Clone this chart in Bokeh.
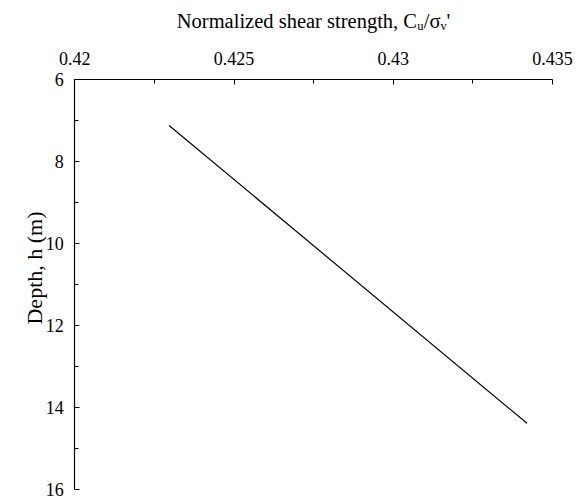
import math
from bokeh.plotting import figure
from bokeh.models import Range1d, FixedTicker, CustomJSTickFormatter, Label, LinearAxis
from bokeh.embed import file_html
from bokeh.resources import INLINE

# data
ratio = [0.42296, 0.43420]      # Cu/sigma_v'
depth = [7.12, 14.38]           # h (m)

x_ticks = [0.42, 0.425, 0.43, 0.435]
x_minor = [0.4225, 0.4275, 0.4325]
y_ticks = [6, 8, 10, 12, 14, 16]
y_minor = [7, 9, 11, 13, 15]

x_title = "Normalized shear strength, C\u1d64/\u03c3\u1d65'"
y_title = "Depth, h (m)"

FONT = "Liberation Serif"

# layout: canvas size and where the axes box sits on it (pixels)
W, H = 575, 496
BOX_L, BOX_R, BOX_T, BOX_B = 74.3, 552.0, 79.0, 489.3

x0, x1 = x_ticks[0], x_ticks[-1]
y0, y1 = y_ticks[0], y_ticks[-1]
sx = (BOX_R - BOX_L) / (x1 - x0)
sy = (BOX_B - BOX_T) / (y1 - y0)
x_range = Range1d(x0 - BOX_L / sx, x1 + (W - BOX_R) / sx)
y_range = Range1d(y1 + (H - BOX_B) / sy, y0 - BOX_T / sy)

p = figure(width=W, height=H, x_range=x_range, y_range=y_range,
           x_axis_location=None, y_axis_location=None,
           output_backend="svg", toolbar_location=None,
           min_border_left=0, min_border_top=0,
           min_border_right=0, min_border_bottom=0)
p.outline_line_color = None
p.grid.visible = False
p.background_fill_color = "white"
p.border_fill_color = "white"

p.line(ratio, depth, line_color="black", line_width=1.2)

xa = LinearAxis(fixed_location=y0, bounds=(x0, x1),
                ticker=FixedTicker(ticks=x_ticks, minor_ticks=x_minor),
                formatter=CustomJSTickFormatter(code="return String(Number(tick.toFixed(4)));"))
# the corner label is drawn as its own text so it stays centred on its tick
xa.major_label_overrides = {x0: ""}
ya = LinearAxis(fixed_location=x0, bounds=(y0, y1),
                ticker=FixedTicker(ticks=y_ticks, minor_ticks=y_minor))

for ax in (xa, ya):
    ax.axis_line_color = "black"
    ax.axis_line_width = 1.2
    ax.major_tick_line_color = "black"
    ax.minor_tick_line_color = "black"
    ax.major_tick_in = 5
    ax.major_tick_out = 0
    ax.minor_tick_in = 4
    ax.minor_tick_out = 0
    ax.major_label_text_font = FONT
    ax.major_label_text_font_size = "18px"
    ax.major_label_text_font_style = "normal"
    ax.major_label_text_color = "black"

xa.major_label_standoff = 15
ya.major_label_standoff = 11

xa.axis_label = x_title
xa.axis_label_text_font = FONT
xa.axis_label_text_font_size = "20.5px"
xa.axis_label_text_font_style = "normal"
xa.axis_label_text_color = "black"
xa.axis_label_standoff = 17

p.add_layout(xa, "above")
p.add_layout(ya, "left")

p.add_layout(Label(x=x0, y=y0, y_offset=21,
                   text=str(x0), text_align="center", text_baseline="alphabetic",
                   text_font=FONT, text_font_size="18px", text_color="black"))

p.add_layout(Label(x=34, y=H - 267.5, x_units="screen", y_units="screen",
                   text=y_title, angle=math.pi / 2,
                   text_align="center", text_baseline="alphabetic",
                   text_font=FONT, text_font_size="22px", text_color="black"))

open("out.html", "w").write(file_html(p, INLINE))
